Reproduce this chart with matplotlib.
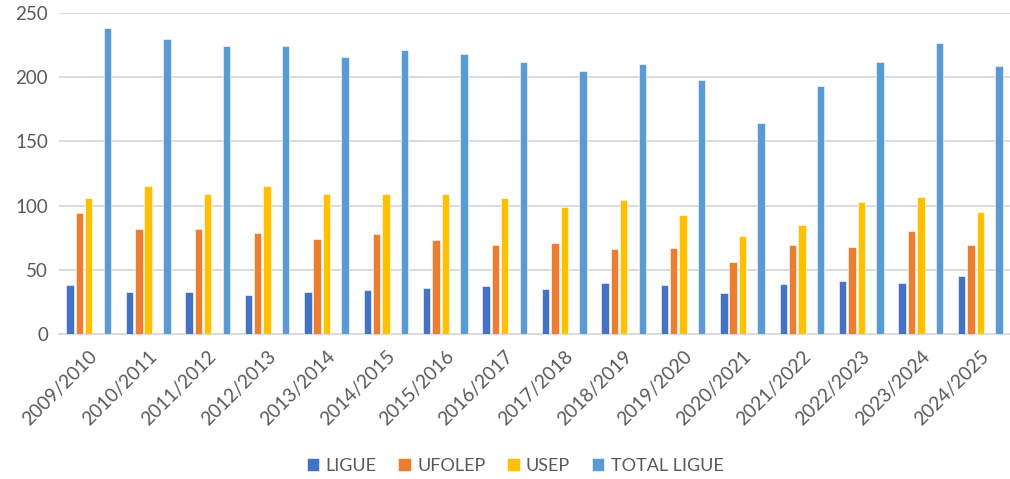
import matplotlib
matplotlib.use("Agg")
import matplotlib.pyplot as plt
import numpy as np

seasons = ["2009/2010", "2010/2011", "2011/2012", "2012/2013", "2013/2014", "2014/2015",
           "2015/2016", "2016/2017", "2017/2018", "2018/2019", "2019/2020", "2020/2021",
           "2021/2022", "2022/2023", "2023/2024", "2024/2025"]
ligue = [38, 33, 33, 30, 33, 34, 36, 37, 35, 40, 38, 32, 39, 41, 40, 45]
ufolep = [94, 82, 82, 79, 74, 78, 73, 69, 71, 66, 67, 56, 69, 68, 80, 69]
usep = [106, 115, 109, 115, 109, 109, 109, 106, 99, 104, 93, 76, 85, 103, 107, 95]
total_ligue = [238, 230, 224, 224, 216, 221, 218, 212, 205, 210, 198, 164, 193, 212, 227, 209]

series_names = ["LIGUE", "UFOLEP", "USEP", "TOTAL LIGUE"]
colors = ["#4472C4", "#ED7D31", "#FFC000", "#5B9BD5"]
slots = [-2, -1, 0, 2]  # an empty slot sits between USEP and TOTAL LIGUE

plt.rcParams['font.family'] = ['Lato', 'DejaVu Sans']

fig = plt.figure(figsize=(10.10, 4.79), dpi=100)
ax = fig.add_axes([59 / 1010, 1 - 334 / 479, 951 / 1010, 321 / 479])

x = np.arange(len(seasons))
slot_w = 0.157
bar_w = 0.125
for vals, name, col, s in zip([ligue, ufolep, usep, total_ligue], series_names, colors, slots):
    ax.bar(x + s * slot_w, vals, width=bar_w, color=col, label=name,
           edgecolor="white", linewidth=0.4, zorder=3)

ax.set_xlim(-0.5, len(seasons) - 0.5)
ax.set_ylim(0, 250)
ax.set_yticks([0, 50, 100, 150, 200, 250])
ax.grid(axis="y", color="#D9D9D9", linewidth=1.3, zorder=0)
for sp in ["top", "right", "left"]:
    ax.spines[sp].set_visible(False)
ax.spines["bottom"].set_color("#D9D9D9")
ax.spines["bottom"].set_linewidth(1.3)
ax.tick_params(axis="both", length=0, colors="#595959", labelsize=13.5)
ax.tick_params(axis="y", pad=8)
ax.set_xticks(x)
ax.set_xticklabels(seasons, rotation=45, ha="right", rotation_mode="anchor")
ax.tick_params(axis="x", pad=10, labelsize=13.8)

ax.legend(loc="center", bbox_to_anchor=(456 / 951, (334 - 466) / 321), ncol=4,
          frameon=False, fontsize=13, handlelength=0.7, handleheight=0.75,
          handletextpad=0.35, columnspacing=1.2, labelcolor="#595959")

fig.savefig("out.png", dpi=100)
